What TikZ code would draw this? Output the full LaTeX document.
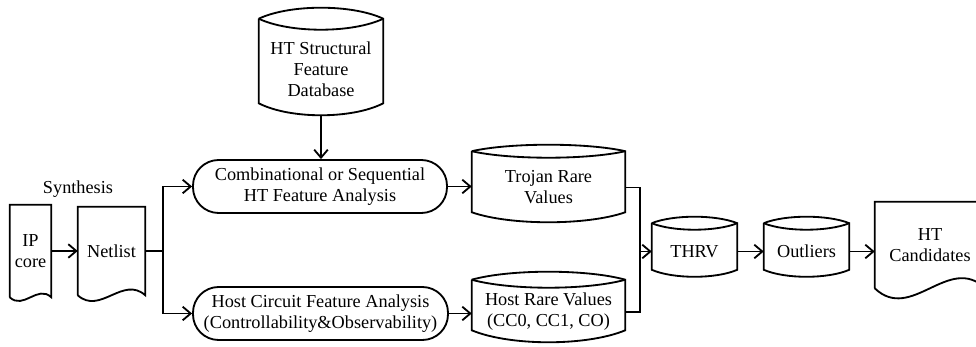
\documentclass[tikz,border=0pt]{standalone}
\usepackage{fontspec}
\setmainfont{Liberation Serif}
\usetikzlibrary{arrows.meta,positioning,calc}

\tikzset{
  flow/.style={line width=1.3pt},
  arr/.style={flow,-{Straight Barb[length=2mm,width=3.4mm]}},
  box/.style={inner sep=0pt,align=center,font=\fontsize{13}{15}\selectfont},
  procbox/.style={box,draw,flow,rounded corners=0.64cm},
}

% document sheet with a wavy lower edge
\newcommand{\docoutline}[2]{%
  \draw[flow] (#1.south west) -- (#1.north west) -- (#1.north east) -- (#1.south east)
    .. controls ($(#1.south east)!0.33!(#1.south west)+(0,#2)$) and ($(#1.south east)!0.67!(#1.south west)+(0,-#2)$) .. (#1.south west);
}
% stored data drum: lens on top, bulged bottom
\newcommand{\drumoutline}[3]{%
  \draw[flow] ($(#1.north west)+(0,#2)$) -- ($(#1.south west)+(0,#3)$)
    .. controls ($(#1.south west)!0.25!(#1.south east)+(0,{-5*#3/3})$) and ($(#1.south west)!0.75!(#1.south east)+(0,{-5*#3/3})$) .. ($(#1.south east)+(0,#3)$)
    -- ($(#1.north east)+(0,#2)$)
    .. controls ($(#1.north west)!0.75!(#1.north east)+(0,{7*#2/3})$) and ($(#1.north west)!0.25!(#1.north east)+(0,{7*#2/3})$) .. ($(#1.north west)+(0,#2)$);
  \draw[flow] ($(#1.north west)+(0,#2)$)
    .. controls ($(#1.north west)!0.25!(#1.north east)+(0,{-#2/3})$) and ($(#1.north west)!0.75!(#1.north east)+(0,{-#2/3})$) .. ($(#1.north east)+(0,#2)$);
  \coordinate (#1-bot) at ($(#1.south)+(0,-#3)$);
}

\begin{document}
\begin{tikzpicture}[x=0.025cm,y=0.025cm]
\useasboundingbox (0,0) rectangle (976,347);
\clip (0,0) rectangle (976,347);

% input side
\node[box,minimum width=41*0.025cm,minimum height=92*0.025cm] (ipcore) at (30.5,96) {IP\\core};
\docoutline{ipcore}{13}
\node[box,minimum width=67*0.025cm,minimum height=88*0.025cm] (netlist) at (111.5,96) {Netlist};
\docoutline{netlist}{20}
\node[box] (synth) at (78,158) {Synthesis};
\draw[arr] (ipcore.east) -- (ipcore.east -| netlist.west);

% feature database
\node[box,minimum width=124*0.025cm,minimum height=79*0.025cm] (htdb) at (321,277.5) {HT Structural\\Feature\\Database};
\drumoutline{htdb}{11}{6}

% analysis steps
\node[procbox,minimum width=254*0.025cm,minimum height=53*0.025cm] (comb) at (320,160.5) {Combinational or Sequential\\HT Feature Analysis};
\node[procbox,minimum width=255*0.025cm,minimum height=53*0.025cm] (host) at (320.5,33.5) {Host Circuit Feature Analysis\\(Controllability\&Observability)};
\draw[arr] (htdb-bot) -- (htdb-bot |- comb.north);
\draw[arr] (netlist.east) -- ++(18,0) |- (comb.west);
\draw[arr] (netlist.east) -- ++(18,0) |- (host.west);

% rare values
\node[box,minimum width=153*0.025cm,minimum height=59*0.025cm] (trojan) at (548.5,159.5) {Trojan Rare\\Values};
\drumoutline{trojan}{6.5}{5}
\node[box,minimum width=153*0.025cm,minimum height=48*0.025cm] (hostrv) at (548.5,35) {Host Rare Values\\(CC0, CC1, CO)};
\drumoutline{hostrv}{8}{6}
\draw[arr] (comb.east) -- (comb.east -| trojan.west);
\draw[arr] (host.east) -- (host.east -| hostrv.west);

% merge and output
\node[box,minimum width=85*0.025cm,minimum height=43*0.025cm] (thrv) at (694.5,95.5) {THRV};
\drumoutline{thrv}{6.5}{3.5}
\node[box,minimum width=85*0.025cm,minimum height=43*0.025cm] (outl) at (806.5,95.5) {Outliers};
\drumoutline{outl}{6.5}{3.5}
\node[box,minimum width=110*0.025cm,minimum height=86*0.025cm] (htc) at (930,102) {HT\\Candidates};
\docoutline{htc}{35}
\coordinate (jn) at ($(trojan.east)+(15,0)$);
\draw[flow] (trojan.east) -- (jn) |- (hostrv.east);
\draw[arr] (jn |- thrv.west) -- (thrv.west);
\draw[arr] (thrv.east) -- (outl.west);
\draw[arr] (outl.east) -- (outl.east -| htc.west);
\end{tikzpicture}
\end{document}
